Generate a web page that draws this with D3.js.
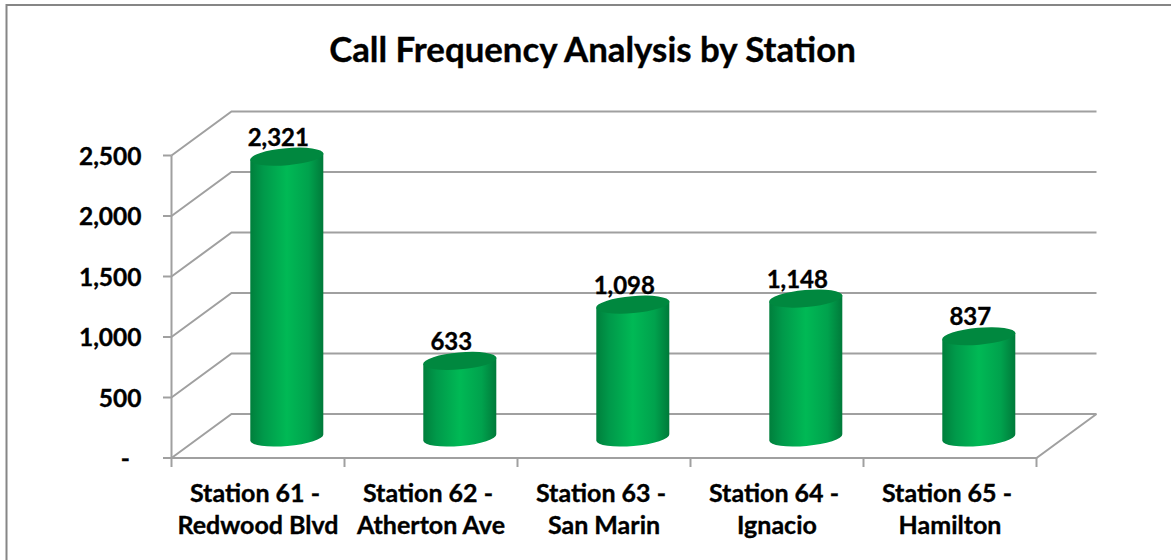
<!DOCTYPE html>
<html><head><meta charset="utf-8">
<script src="https://cdn.jsdelivr.net/npm/d3@7"></script>
<style>html,body{margin:0;padding:0;background:#fff}svg{display:block}text{paint-order:stroke;stroke:#000;stroke-width:.35px}</style>
</head><body><svg id="c" width="1171" height="560"></svg>
<script>
const titleText = "Call Frequency Analysis by Station";
const categories = ["Station 61 - |Redwood Blvd","Station 62 - |Atherton Ave","Station 63 - |San Marin","Station 64 - |Ignacio","Station 65 - |Hamilton"];
const values = [2321,633,1098,1148,837];
const yTicks = [0,500,1000,1500,2000,2500];

const svg = d3.select("#c");
const font = "Lato, 'Open Sans', sans-serif";
const grey = "#a0a0a0";
const depthX = 60, depthY = -44;
const y = d3.scaleLinear().domain([0,2500]).range([458,155.5]);
const x = d3.scaleBand().domain(categories).range([171.5,1036.5]);
const fmt = v => v === 0 ? "-" : d3.format(",")(v);

svg.append("rect").attr("x",6.5).attr("y",5).attr("width",1180).attr("height",580)
  .attr("fill","#fff").attr("stroke","#868686").attr("stroke-width",2);

svg.append("text").attr("x",592.5).attr("y",62).attr("text-anchor","middle")
  .attr("font-family",font).attr("font-weight",700).attr("font-size",34.8).attr("fill","#000").text(titleText);

const grid = svg.append("g").attr("fill","none").attr("stroke",grey).attr("stroke-width",2);
yTicks.forEach(t=>{
  const y0=y(t);
  grid.append("path").attr("d",`M${x.range()[0]},${y0}L${x.range()[0]+depthX},${y0+depthY}H${x.range()[1]+depthX}`);
  grid.append("line").attr("x1",163).attr("x2",171.5).attr("y1",y0).attr("y2",y0);
});
grid.append("line").attr("x1",171.5).attr("x2",171.5).attr("y1",y(2500)).attr("y2",y(0));
grid.append("path").attr("d",`M${x.range()[0]},${y(0)}H${x.range()[1]}L${x.range()[1]+depthX},${y(0)+depthY}`);
[...categories.map(c=>x(c)),x.range()[1]].forEach(px=>{
  grid.append("line").attr("x1",px).attr("x2",px).attr("y1",y(0)).attr("y2",y(0)+9);
});

const defs = svg.append("defs");
const g = defs.append("linearGradient").attr("id","body");
[[0,"#007f3c"],[0.18,"#00994a"],[0.5,"#00b955"],[0.8,"#00a24d"],[1,"#007a3a"]].forEach(s=>
  g.append("stop").attr("offset",s[0]).attr("stop-color",s[1]));

const rx=36.5, ry=8.5, tilt=-5;
const baseY=437.5;
const h0=y(0);
const bars = svg.append("g").selectAll("g").data(values).join("g");
bars.each(function(v,i){
  const s=d3.select(this);
  const cx=x(categories[i])+x.bandwidth()/2+28.8;
  const top=baseY-(h0-y(v));
  const sl=Math.tan(tilt*Math.PI/180)*rx;
  s.append("path").attr("fill","url(#body)")
   .attr("d",`M${cx-rx},${top-sl}L${cx+rx},${top+sl}L${cx+rx},${baseY+sl}A${rx},${ry} ${tilt} 0 1 ${cx-rx},${baseY-sl}Z`);
  s.append("ellipse").attr("cx",cx).attr("cy",top).attr("rx",rx+0.3).attr("ry",ry)
   .attr("transform",`rotate(${tilt} ${cx} ${top})`).attr("fill","#00883f");
  s.append("text").attr("x",cx-8.5).attr("y",top-11).attr("text-anchor","middle")
   .attr("font-family",font).attr("font-weight",700).attr("font-size",24).attr("fill","#000").text(d3.format(",")(v));
});

yTicks.forEach(t=>{
  svg.append("text").attr("x",t===0?130:141.5).attr("y",y(t)+9).attr("text-anchor","end")
   .attr("font-family",font).attr("font-weight",700).attr("font-size",24.5).attr("fill","#000").text(fmt(t));
});
categories.forEach(c=>{
  const [a,b]=c.split("|");
  const t=svg.append("text").attr("text-anchor","middle").attr("font-family",font).attr("font-weight",700).attr("font-size",25).attr("fill","#000");
  const cx=x(c)+x.bandwidth()/2;
  t.append("tspan").attr("x",cx).attr("y",502).text(a);
  t.append("tspan").attr("x",cx).attr("y",533.5).text(b);
});
</script></body></html>
